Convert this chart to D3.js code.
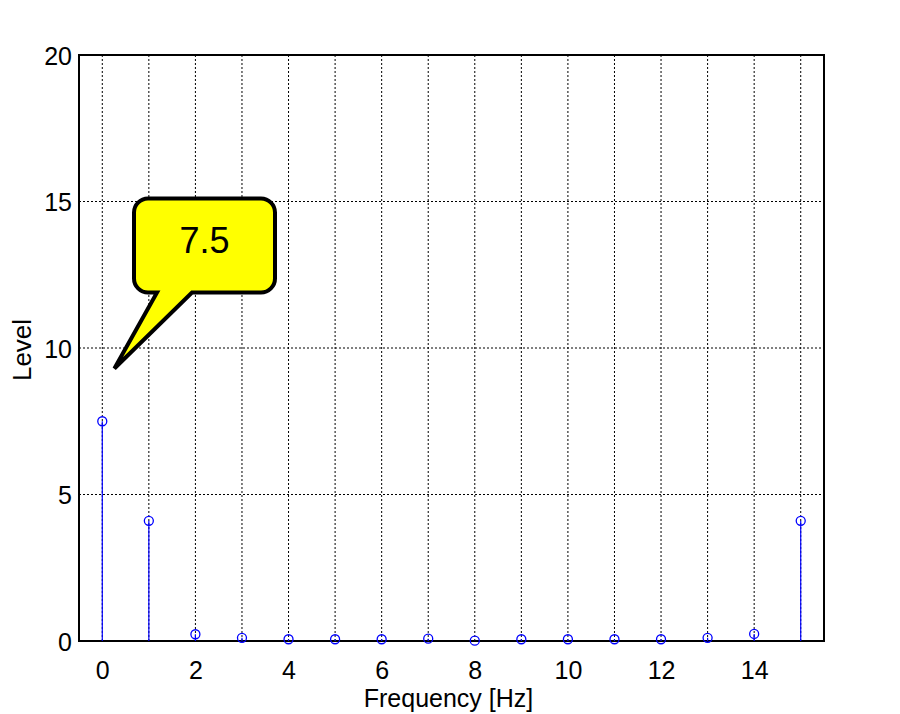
<!DOCTYPE html>
<html>
<head>
<meta charset="utf-8">
<script src="https://cdn.jsdelivr.net/npm/d3@7"></script>
<style>
  body { margin: 0; background: #fff; }
  svg text { font-family: "Liberation Sans", "DejaVu Sans", sans-serif; }
</style>
</head>
<body>
<div id="chart"></div>
<script>
// stem plot of spectrum levels
const freqs = [0, 1, 2, 3, 4, 5, 6, 7, 8, 9, 10, 11, 12, 13, 14, 15];
const levels = [7.5, 4.1, 0.23, 0.11, 0.06, 0.06, 0.06, 0.08, 0.01, 0.06, 0.06, 0.06, 0.06, 0.11, 0.24, 4.1];
const xTicks = [0, 2, 4, 6, 8, 10, 12, 14];
const yTicks = [0, 5, 10, 15, 20];
const calloutText = '7.5';

const width = 900, height = 714;
const margin = {top: 55, right: 76, bottom: 73, left: 79};
const w = width - margin.left - margin.right;
const h = height - margin.top - margin.bottom;

const svg = d3.select('#chart').append('svg')
  .attr('width', width).attr('height', height);
const g = svg.append('g').attr('transform', `translate(${margin.left},${margin.top})`);

const x = d3.scaleLinear().domain([-0.5, 15.5]).range([0, w]);
const y = d3.scaleLinear().domain([0, 20]).range([h, 0]);

// grid
g.selectAll('.vgrid').data(freqs).enter().append('line')
  .attr('x1', d => x(d)).attr('x2', d => x(d))
  .attr('y1', 0).attr('y2', h)
  .attr('stroke', '#000').attr('stroke-width', 1).attr('stroke-dasharray', '2,2');
g.selectAll('.hgrid').data(yTicks.slice(1, -1)).enter().append('line')
  .attr('x1', 0).attr('x2', w)
  .attr('y1', d => y(d)).attr('y2', d => y(d))
  .attr('stroke', '#000').attr('stroke-width', 1).attr('stroke-dasharray', '2,2');

// axes
const xAxis = g.append('g').attr('transform', `translate(0,${h})`)
  .call(d3.axisBottom(x).tickValues(xTicks).tickSize(0).tickPadding(0));
const yAxis = g.append('g')
  .call(d3.axisLeft(y).tickValues(yTicks).tickSize(0).tickPadding(7));
[xAxis, yAxis].forEach(a => {
  a.attr('font-size', 25);
  a.select('.domain').remove();
  a.selectAll('text').attr('fill', '#000');
});
xAxis.selectAll('text').attr('dy', null).attr('y', 38);
yAxis.selectAll('text').attr('dy', '0.36em');

// box
g.append('rect').attr('x', 0).attr('y', 0).attr('width', w).attr('height', h)
  .attr('fill', 'none').attr('stroke', '#000').attr('stroke-width', 2);

// stems
g.selectAll('.stem').data(freqs).enter().append('line')
  .attr('x1', d => x(d)).attr('x2', d => x(d))
  .attr('y1', y(0)).attr('y2', (d, i) => y(levels[i]))
  .attr('stroke', '#0000ff').attr('stroke-width', 1.2);
g.selectAll('.mark').data(freqs).enter().append('circle')
  .attr('cx', d => x(d)).attr('cy', (d, i) => y(levels[i]))
  .attr('r', 4.5)
  .attr('fill', 'none').attr('stroke', '#0000ff').attr('stroke-width', 1.3);

// axis labels
svg.append('text').attr('x', margin.left + w / 2 - 3).attr('y', 707)
  .attr('text-anchor', 'middle').style('font-size', '25px').text('Frequency [Hz]');
svg.append('text').attr('transform', `translate(31,${margin.top + h / 2 + 2}) rotate(-90)`)
  .attr('text-anchor', 'middle').style('font-size', '26px').text('Level');

// callout bubble
const bx = x(-0.5) + 55, by = y(15) - 3, bw = 141, bh = 94, r = 14;
const tip = [x(0.26), y(9.3)];
const path = d3.path();
path.moveTo(bx + r, by);
path.lineTo(bx + bw - r, by);
path.arcTo(bx + bw, by, bx + bw, by + r, r);
path.lineTo(bx + bw, by + bh - r);
path.arcTo(bx + bw, by + bh, bx + bw - r, by + bh, r);
path.lineTo(bx + 58, by + bh);
path.lineTo(tip[0], tip[1]);
path.lineTo(bx + 23, by + bh);
path.lineTo(bx + r, by + bh);
path.arcTo(bx, by + bh, bx, by + bh - r, r);
path.lineTo(bx, by + r);
path.arcTo(bx, by, bx + r, by, r);
path.closePath();
g.append('path').attr('d', path.toString())
  .attr('fill', '#ffff00').attr('stroke', '#000').attr('stroke-width', 4)
  .attr('stroke-linejoin', 'miter');
g.append('text').attr('x', bx + bw / 2).attr('y', by + 54)
  .attr('text-anchor', 'middle')
  .style('font-size', '36px').text(calloutText);
</script>
</body>
</html>
